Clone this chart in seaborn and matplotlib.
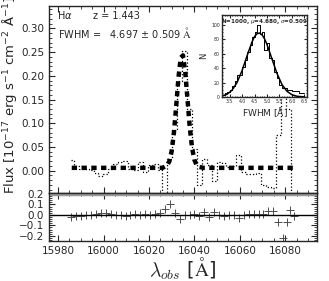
import numpy as np
import pandas as pd
import matplotlib
matplotlib.use('Agg')
import matplotlib.pyplot as plt
from matplotlib.ticker import MultipleLocator
import seaborn as sns

# spectrum (observed wavelength, flux in 1e-17 units)
wave = [15985.8, 15988.0, 15990.1, 15992.3, 15994.5, 15996.7, 15998.8, 16001.0,
        16003.2, 16005.3, 16007.5, 16009.7, 16011.8, 16014.0, 16016.2, 16018.4,
        16020.5, 16022.7, 16024.9, 16027.0, 16029.2, 16031.4, 16033.5, 16035.7,
        16037.9, 16040.0, 16042.2, 16044.4, 16046.6, 16048.7, 16050.9, 16053.1,
        16055.2, 16057.4, 16059.6, 16061.7, 16063.9, 16066.1, 16068.3, 16070.4,
        16072.6, 16074.8, 16076.9, 16079.1, 16081.3, 16083.4]
flux = [0.022, 0.010, 0.004, 0.004, 0.002, -0.004, -0.012, -0.006,
        0.004, 0.014, 0.018, 0.020, 0.004, 0.002, 0.018, -0.002,
        0.012, 0.014, 0.002, -0.120, 0.025, 0.085, 0.190, 0.252,
        0.130, 0.045, -0.030, 0.024, 0.012, -0.022, 0.018, 0.016,
        0.008, 0.010, 0.034, -0.002, -0.006, -0.008, -0.004, -0.030,
        -0.034, -0.036, 0.075, 0.160, 0.130, -0.120]

# gaussian fit to the line
fit_wave = [15986.0, 16026.0, 16028.0, 16029.0, 16030.0, 16031.0, 16032.0, 16033.0,
            16034.0, 16035.0, 16036.0, 16037.0, 16038.0, 16039.0, 16040.0, 16041.0,
            16042.0, 16044.0, 16084.0]
fit_flux = [0.006, 0.006, 0.011, 0.020, 0.041, 0.080, 0.136, 0.196,
            0.238, 0.243, 0.207, 0.149, 0.090, 0.048, 0.023, 0.012,
            0.008, 0.006, 0.006]

# residuals
res_wave = [15985.8, 15988.0, 15990.1, 15992.3, 15994.5, 15996.7, 15998.8, 16001.0,
            16003.2, 16005.3, 16007.5, 16009.7, 16011.8, 16014.0, 16016.2, 16018.4,
            16020.5, 16022.7, 16024.9, 16027.0, 16029.2, 16031.4, 16033.5, 16035.7,
            16037.9, 16040.0, 16042.2, 16044.4, 16046.6, 16048.7, 16050.9, 16053.1,
            16055.2, 16057.4, 16059.6, 16061.7, 16063.9, 16066.1, 16068.3, 16070.4,
            16072.6, 16074.8, 16077.0, 16079.1, 16080.8, 16082.0, 16084.0]
resid = [-0.020, -0.010, -0.010, -0.005, 0.000, 0.005, 0.015, 0.015,
         0.010, -0.005, -0.005, -0.010, -0.005, 0.005, 0.000, 0.010,
         0.000, 0.005, 0.015, 0.060, 0.100, 0.020, -0.040, 0.000,
         0.000, 0.005, -0.015, 0.030, -0.020, 0.025, -0.005, -0.010,
         -0.005, 0.000, -0.030, 0.000, 0.010, 0.010, 0.005, 0.010,
         0.035, 0.035, -0.070, -0.220, -0.070, 0.050, -0.010]

# monte carlo FWHM histogram
fwhm_edges = [3.2, 3.3, 3.4, 3.5, 3.6, 3.7, 3.8, 3.9, 4.0, 4.1, 4.2, 4.3, 4.4, 4.5,
              4.6, 4.7, 4.8, 4.9, 5.0, 5.1, 5.2, 5.3, 5.4, 5.5, 5.6, 5.7, 5.8,
              5.9, 6.0, 6.1, 6.2, 6.3, 6.4, 6.5]
fwhm_counts = [3, 5, 7, 10, 15, 22, 31, 31, 42, 52, 63, 72, 84, 91, 100, 88, 91, 65,
               75, 54, 52, 35, 26, 17, 12, 12, 10, 10, 9, 9, 9, 6, 6]
gauss_x = [3.2, 3.4, 3.6, 3.8, 4.0, 4.2, 4.4, 4.5, 4.6, 4.7, 4.8, 4.9, 5.0, 5.2,
           5.4, 5.6, 5.8, 6.0, 6.2, 6.5]
gauss_y = [1.3, 3.8, 9.4, 20.0, 36.5, 57.0, 76.5, 84.0, 88.0, 89.0, 86.6, 81.0, 73.0,
           52.8, 32.7, 17.3, 7.9, 3.1, 1.0, 0.1]

sns.set_style('ticks')
plt.rcParams['font.family'] = ['DejaVu Sans']
plt.rcParams['mathtext.fontset'] = 'dejavusans'
plt.rcParams['xtick.direction'] = 'in'
plt.rcParams['ytick.direction'] = 'in'
plt.rcParams['xtick.top'] = True
plt.rcParams['ytick.right'] = True

fig = plt.figure(figsize=(3.29, 2.81), dpi=100)
ax = fig.add_axes([0.149, 0.3132, 0.8145, 0.6654])
axr = fig.add_axes([0.149, 0.1423, 0.8145, 0.1709], sharex=ax)
axi = fig.add_axes([0.6748, 0.6548, 0.2583, 0.2918])

# main spectrum
spec = pd.DataFrame({'wave': wave, 'flux': flux})
fit = pd.DataFrame({'wave': fit_wave, 'flux': fit_flux})
sns.lineplot(data=spec, x='wave', y='flux', ax=ax, color='black', lw=0.9,
             linestyle=':', drawstyle='steps-mid', estimator=None, sort=False)
sns.lineplot(data=fit, x='wave', y='flux', ax=ax, color='black', lw=3.2,
             linestyle=(0, (1.2, 1.0)), estimator=None, sort=False)
ax.set_xlim(15976, 16094)
ax.set_ylim(-0.047, 0.347)
ax.yaxis.set_major_locator(MultipleLocator(0.05))
ax.yaxis.set_minor_locator(MultipleLocator(0.01))
ax.xaxis.set_minor_locator(MultipleLocator(5))
ax.tick_params(labelbottom=False, labelsize=7.5, length=4)
ax.tick_params(which='minor', length=2)
ax.set_xlabel('')
ax.set_ylabel(r'Flux [10$^{-17}$ erg s$^{-1}$ cm$^{-2}$ $\mathrm{\AA}^{-1}$]', fontsize=9.5)
ax.yaxis.set_label_coords(-0.112, 0.52)
ax.text(0.03, 0.93, r'H$\alpha$', transform=ax.transAxes, fontsize=7)
ax.text(0.165, 0.93, 'z = 1.443', transform=ax.transAxes, fontsize=7)
ax.text(0.035, 0.83, 'FWHM =   4.697 $\\pm$ 0.509', transform=ax.transAxes, fontsize=7)
ax.text(0.497, 0.83, r'$\mathrm{\AA}$', transform=ax.transAxes, fontsize=7.5,
        math_fontfamily='cm')

# residuals
rdf = pd.DataFrame({'wave': res_wave, 'resid': resid})
sns.scatterplot(data=rdf, x='wave', y='resid', ax=axr, marker='+', s=30,
                color='0.3', linewidth=0.7)
axr.axhline(0.0, color='black', lw=1)
axr.axhline(0.2, color='0.6', lw=2.5)
axr.set_ylim(-0.25, 0.21)
axr.yaxis.set_major_locator(MultipleLocator(0.1))
axr.yaxis.set_minor_locator(MultipleLocator(0.02))
axr.xaxis.set_major_locator(MultipleLocator(20))
axr.xaxis.set_minor_locator(MultipleLocator(5))
axr.tick_params(labelsize=7.5, length=4)
axr.tick_params(which='minor', length=2)
axr.set_ylabel('')
axr.set_xlabel(r'$\lambda_{obs}$ [$\mathrm{\AA}$]', fontsize=14, math_fontfamily='cm')
axr.xaxis.set_label_coords(0.5, -0.3)
for s in ['top', 'bottom', 'left', 'right']:
    ax.spines[s].set_linewidth(1)
    axr.spines[s].set_linewidth(1)

# inset histogram
centers = [(fwhm_edges[i] + fwhm_edges[i + 1]) / 2 for i in range(len(fwhm_counts))]
sns.histplot(x=centers, weights=fwhm_counts, bins=fwhm_edges, element='step',
             fill=False, color='black', lw=0.7, ax=axi)
sns.lineplot(x=gauss_x, y=gauss_y, ax=axi, color='black', lw=1.1)
axi.set_xlim(3.2, 6.6)
axi.set_ylim(0, 114)
axi.xaxis.set_major_locator(MultipleLocator(0.5))
axi.xaxis.set_minor_locator(MultipleLocator(0.1))
axi.yaxis.set_major_locator(MultipleLocator(20))
axi.yaxis.set_minor_locator(MultipleLocator(5))
axi.tick_params(labelsize=3.3, length=2, pad=1.5)
axi.tick_params(which='minor', length=1)
axi.set_xlabel(r'FWHM [$\mathrm{\AA}$]', fontsize=6.5, labelpad=1)
axi.set_ylabel('N', fontsize=6, labelpad=2)
axi.text(0.5, 0.975, r'N=1000, $\mu$=4.680, $\sigma$=0.509', transform=axi.transAxes,
         ha='center', va='top', fontsize=4.1, fontweight='bold')
for s in ['top', 'bottom', 'left', 'right']:
    axi.spines[s].set_linewidth(1)

fig.savefig('out.png', dpi=100)
